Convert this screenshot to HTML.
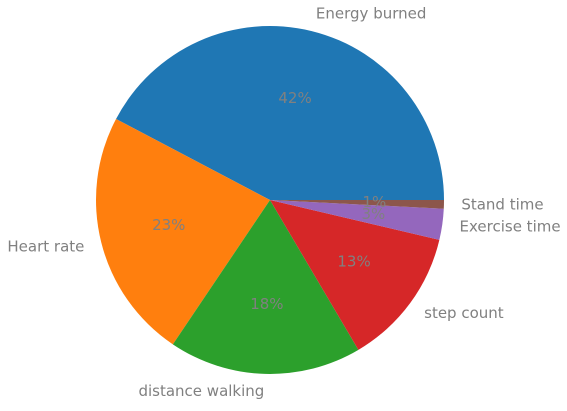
<!DOCTYPE html>
<html><head><meta charset="utf-8"><style>
body{margin:0;background:#fff;}
svg text{font-family:"DejaVu Sans","Liberation Sans",sans-serif;font-size:15px;fill:#808080;}
</style></head><body>
<svg id="chart" width="567" height="406" viewBox="0 0 567 406" xmlns="http://www.w3.org/2000/svg">
<g id="slices"></g>
<g id="labels"></g>
</svg>
<script>
const categories = ["Energy burned","Heart rate","distance walking","step count","Exercise time","Stand time"];
const values = [42.5, 23.4, 18.0, 12.9, 2.9, 0.8];
const colors = ["#1f77b4","#ff7f0e","#2ca02c","#d62728","#9467bd","#8c564b"];
const cx = 270, cy = 200, r = 174;
const NS = "http://www.w3.org/2000/svg";
const total = values.reduce((a,b)=>a+b,0);
const sg = document.getElementById('slices'), lg = document.getElementById('labels');
function pt(a, rr){ return [cx + rr*Math.cos(a), cy - rr*Math.sin(a)]; }
let start = 0;
values.forEach((v,i)=>{
  const sweep = v/total*2*Math.PI, end = start+sweep;
  const [x1,y1]=pt(start,r), [x2,y2]=pt(end,r);
  const p = document.createElementNS(NS,'path');
  p.setAttribute('d',`M${cx},${cy} L${x1},${y1} A${r},${r} 0 ${sweep>Math.PI?1:0} 0 ${x2},${y2} Z`);
  p.setAttribute('fill',colors[i]);
  
  
  sg.appendChild(p);
  const mid = (start+end)/2;
  const [lx,ly]=pt(mid,r*1.1);
  const t = document.createElementNS(NS,'text');
  t.setAttribute('x',lx); t.setAttribute('y',ly);
  t.setAttribute('dominant-baseline','middle');
  t.setAttribute('text-anchor', Math.cos(mid)>=0?'start':'end');
  t.textContent = categories[i];
  
  
  lg.appendChild(t);
  const [px,py]=pt(mid,r*0.6);
  const pctText = document.createElementNS(NS,'text');
  pctText.setAttribute('x',px); pctText.setAttribute('y',py);
  pctText.setAttribute('dominant-baseline','middle');
  pctText.setAttribute('text-anchor','middle');
  pctText.textContent = Math.round(v/total*100)+'%';
  
  
  lg.appendChild(pctText);
  start = end;
});
</script>
</body></html>
